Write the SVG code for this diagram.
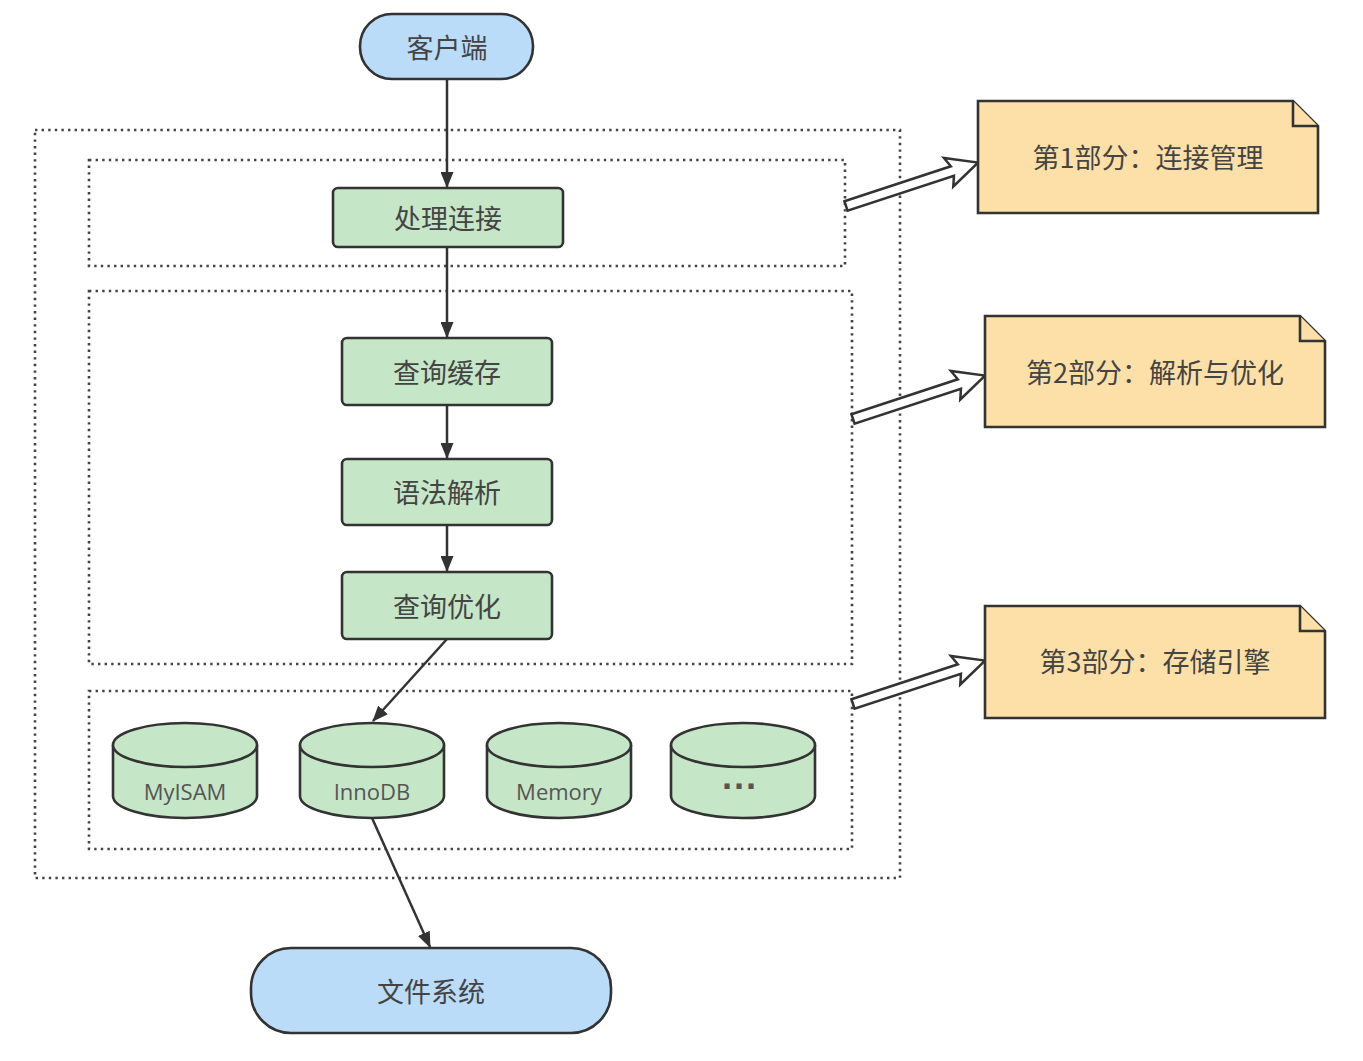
<svg xmlns="http://www.w3.org/2000/svg" width="1363" height="1061" viewBox="0 0 1363 1061">
<style>
.bg{fill:#ffffff}
.grp{fill:none;stroke:#444;stroke-width:2.6;stroke-dasharray:2.4 4.2}
.term{fill:#bbdcf8;stroke:#333;stroke-width:2.6}
.proc{fill:#c6e6c8;stroke:#333;stroke-width:2.6}
.note{fill:#fde0a8;stroke:#333;stroke-width:2.6}
.hol{fill:#fff;stroke:#333;stroke-width:2.5;stroke-linejoin:miter}
.t{font-family:"Noto Sans CJK SC","Noto Sans",sans-serif;font-size:27px;fill:#444;text-anchor:middle;dominant-baseline:central}
.e{font-family:"Open Sans","Noto Sans",sans-serif;font-size:22px;fill:#555;text-anchor:middle;dominant-baseline:central}
.d{font-family:"Liberation Sans",sans-serif;font-size:36px;font-weight:bold;fill:#555;text-anchor:middle;dominant-baseline:central}
.c{fill:none;stroke:#333;stroke-width:2.5}
</style>
<defs>
<marker id="ah" viewBox="0 0 16 13" refX="15" refY="6.5" markerWidth="16" markerHeight="13" markerUnits="userSpaceOnUse" orient="auto">
<path d="M0,0 L16,6.5 L0,13 Z" fill="#333"/>
</marker>
<path id="hollow" d="M0,-5 L112,-5 L108,-15 L139,0 L108,15 L112,5 L0,5 Z"/>
</defs>
<rect class="bg" x="0" y="0" width="1363" height="1061"/>

<g id="groups">
<rect class="grp" x="35" y="130" width="865" height="748"/>
<rect class="grp" x="89" y="160" width="756" height="106"/>
<rect class="grp" x="89" y="291" width="763" height="373"/>
<rect class="grp" x="89" y="691" width="763" height="158"/>
</g>

<g id="connectors">
<line class="c" x1="447" y1="79" x2="447" y2="187" marker-end="url(#ah)"/>
<line class="c" x1="447" y1="247" x2="447" y2="337" marker-end="url(#ah)"/>
<line class="c" x1="447" y1="405" x2="447" y2="458" marker-end="url(#ah)"/>
<line class="c" x1="447" y1="525" x2="447" y2="571" marker-end="url(#ah)"/>
<line class="c" x1="447" y1="639" x2="373" y2="721" marker-end="url(#ah)"/>
<line class="c" x1="372" y1="818" x2="430" y2="947" marker-end="url(#ah)"/>
<use href="#hollow" class="hol" transform="translate(846,206) rotate(-18.2)"/>
<use href="#hollow" class="hol" transform="translate(853,419) rotate(-18.2)"/>
<use href="#hollow" class="hol" transform="translate(853,704) rotate(-18.2)"/>
</g>

<g id="client">
<rect class="term" x="360" y="14" width="173" height="65" rx="32" ry="32"/>
<text class="t" x="447" y="46">客户端</text>
</g>

<g id="conn">
<rect class="proc" x="333" y="188" width="230" height="59" rx="5"/>
<text class="t" x="448" y="217">处理连接</text>
</g>

<g id="cache">
<rect class="proc" x="342" y="338" width="210" height="67" rx="5"/>
<text class="t" x="447" y="371">查询缓存</text>
</g>

<g id="parse">
<rect class="proc" x="342" y="459" width="210" height="66" rx="5"/>
<text class="t" x="447" y="491">语法解析</text>
</g>

<g id="optimize">
<rect class="proc" x="342" y="572" width="210" height="67" rx="5"/>
<text class="t" x="447" y="605">查询优化</text>
</g>

<g id="myisam">
<path class="proc" d="M113,745 A72,22 0 0 1 257,745 L257,796 A72,22 0 0 1 113,796 Z"/>
<path class="proc" d="M113,745 A72,22 0 0 0 257,745" fill="none"/>
<text class="e" x="185" y="791">MyISAM</text>
</g>

<g id="innodb">
<path class="proc" d="M300,745 A72,22 0 0 1 444,745 L444,796 A72,22 0 0 1 300,796 Z"/>
<path class="proc" d="M300,745 A72,22 0 0 0 444,745" fill="none"/>
<text class="e" x="372" y="791">InnoDB</text>
</g>

<g id="memory">
<path class="proc" d="M487,745 A72,22 0 0 1 631,745 L631,796 A72,22 0 0 1 487,796 Z"/>
<path class="proc" d="M487,745 A72,22 0 0 0 631,745" fill="none"/>
<text class="e" x="559" y="791">Memory</text>
</g>

<g id="others">
<path class="proc" d="M671,745 A72,22 0 0 1 815,745 L815,796 A72,22 0 0 1 671,796 Z"/>
<path class="proc" d="M671,745 A72,22 0 0 0 815,745" fill="none"/>
<text class="d" x="740" y="786">···</text>
</g>

<g id="fs">
<rect class="term" x="251" y="948" width="360" height="85" rx="40" ry="40"/>
<text class="t" x="431" y="990">文件系统</text>
</g>

<g id="note1">
<path class="note" d="M978,101 L1293,101 L1318,126 L1318,213 L978,213 Z"/>
<path class="note" d="M1293,101 L1293,126 L1318,126"/>
<text class="t" x="1148" y="156">第1部分：连接管理</text>
</g>

<g id="note2">
<path class="note" d="M985,316 L1300,316 L1325,341 L1325,427 L985,427 Z"/>
<path class="note" d="M1300,316 L1300,341 L1325,341"/>
<text class="t" x="1155" y="371">第2部分：解析与优化</text>
</g>

<g id="note3">
<path class="note" d="M985,606 L1300,606 L1325,631 L1325,718 L985,718 Z"/>
<path class="note" d="M1300,606 L1300,631 L1325,631"/>
<text class="t" x="1155" y="660">第3部分：存储引擎</text>
</g>
</svg>
